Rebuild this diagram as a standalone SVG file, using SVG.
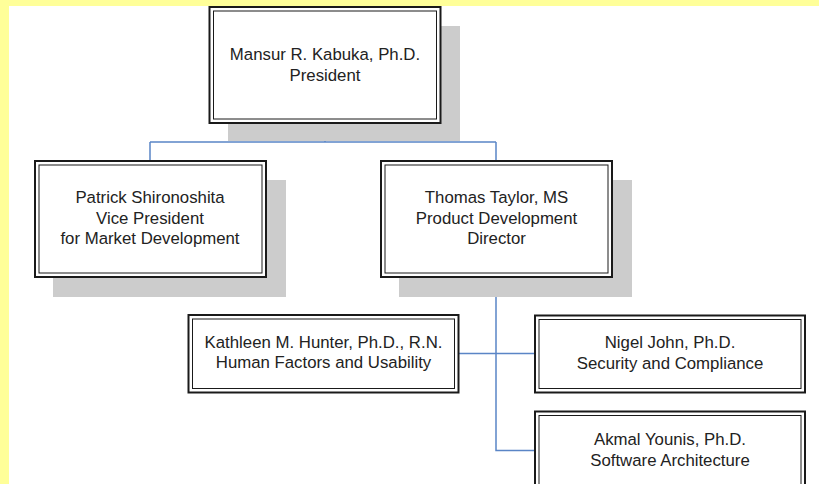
<svg xmlns="http://www.w3.org/2000/svg" width="819" height="484" viewBox="0 0 819 484">
<style>
.bg{fill:#ffff99}
.page{fill:#ffffff}
.shadow{fill:#cccccc}
.outer{fill:#ffffff;stroke:#1a1a1a;stroke-width:2}
.inner{fill:none;stroke:#1a1a1a;stroke-width:1}
.conn{fill:none;stroke:#5a85c6;stroke-width:1.5}
text{font-family:"Liberation Sans",Arial,sans-serif;font-size:16.8px;fill:#222222;text-anchor:middle}
</style>
<rect class="bg" x="0" y="0" width="819" height="484"/>
<rect class="page" x="9" y="6" width="810" height="478"/>
<g id="connectors">
<path class="conn" d="M325,123 V142 M150,142 H496 M150,142 V161 M496,142 V161"/>
<path class="conn" d="M496,277 V450.5 H535 M458,353.5 H535"/>
</g>
<g id="president">
<rect class="shadow" x="228" y="26" width="232" height="115"/>
<rect class="outer" x="209.5" y="7" width="231" height="116"/>
<rect class="inner" x="213.5" y="11" width="223" height="108"/>
<text x="325" y="60">Mansur R. Kabuka, Ph.D.</text>
<text x="325" y="80.5">President</text>
</g>
<g id="patrick">
<rect class="shadow" x="53" y="180" width="233" height="117"/>
<rect class="outer" x="35" y="161" width="231" height="116"/>
<rect class="inner" x="39" y="165" width="223" height="108"/>
<text x="150" y="203.3">Patrick Shironoshita</text>
<text x="150" y="223.6">Vice President</text>
<text x="150" y="244">for Market Development</text>
</g>
<g id="thomas">
<rect class="shadow" x="399" y="180" width="233" height="117"/>
<rect class="outer" x="381" y="161" width="231" height="116"/>
<rect class="inner" x="385" y="165" width="223" height="108"/>
<text x="496.5" y="203.3">Thomas Taylor, MS</text>
<text x="496.5" y="223.6">Product Development</text>
<text x="496.5" y="244">Director</text>
</g>
<g id="kathleen">
<rect class="outer" x="188.5" y="315" width="270" height="77.5"/>
<rect class="inner" x="192.5" y="319" width="262" height="69.5"/>
<text x="323.5" y="347.7">Kathleen M. Hunter, Ph.D., R.N.</text>
<text x="323.5" y="368.3">Human Factors and Usability</text>
</g>
<g id="nigel">
<rect class="outer" x="535" y="315.5" width="270" height="77"/>
<rect class="inner" x="539" y="319.5" width="262" height="69"/>
<text x="670" y="348.3">Nigel John, Ph.D.</text>
<text x="670" y="369">Security and Compliance</text>
</g>
<g id="akmal">
<rect class="outer" x="535" y="411.5" width="270" height="77"/>
<rect class="inner" x="539" y="415.5" width="262" height="69"/>
<text x="670" y="445">Akmal Younis, Ph.D.</text>
<text x="670" y="465.7">Software Architecture</text>
</g>
</svg>
